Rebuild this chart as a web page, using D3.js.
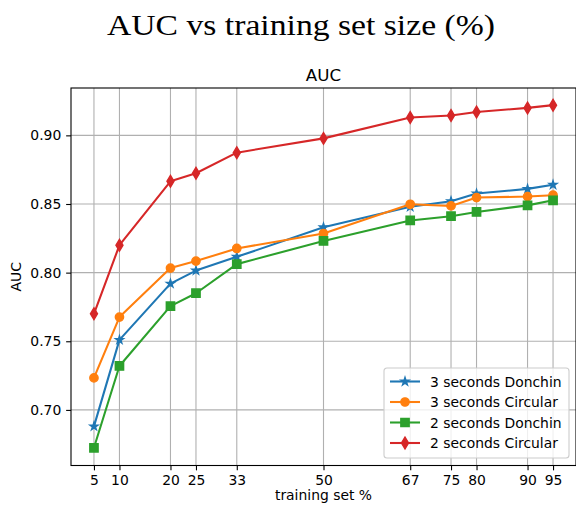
<!DOCTYPE html>
<html>
<head>
<meta charset="utf-8">
<script src="https://cdn.jsdelivr.net/npm/d3@7"></script>
<style>
  body { margin: 0; background: #fff; }
  svg { display: block; font-family: "DejaVu Sans", sans-serif; }
</style>
</head>
<body>
<svg id="chart" width="576" height="508"></svg>
<script>
// training set sizes (%)
const sizes = [5, 10, 20, 25, 33, 50, 67, 75, 80, 90, 95];
const yTicks = [0.70, 0.75, 0.80, 0.85, 0.90];

const donchin3 = [0.688, 0.751, 0.792, 0.8015, 0.8115, 0.833, 0.848, 0.852, 0.8576, 0.861, 0.864];
const circular3 = [0.7233, 0.7676, 0.8033, 0.8084, 0.8176, 0.8285, 0.8498, 0.8486, 0.8547, 0.8554, 0.8564];
const donchin2 = [0.6724, 0.732, 0.7756, 0.785, 0.8062, 0.8231, 0.838, 0.8411, 0.8442, 0.849, 0.8527];
const circular2 = [0.770, 0.820, 0.8665, 0.8724, 0.8874, 0.8978, 0.913, 0.9145, 0.917, 0.920, 0.922];

const series = [
  { name: "3 seconds Donchin", values: donchin3, color: "#1f77b4", marker: "star" },
  { name: "3 seconds Circular", values: circular3, color: "#ff7f0e", marker: "circle" },
  { name: "2 seconds Donchin", values: donchin2, color: "#2ca02c", marker: "square" },
  { name: "2 seconds Circular", values: circular2, color: "#d62728", marker: "diamond" }
];

const svg = d3.select("#chart");
const pLeft = 71, pRight = 576, pTop = 88, pBottom = 465.5;

const x = d3.scaleLinear().domain([0.5, 99.5]).range([pLeft, pRight]);
const y = d3.scaleLinear().domain([0.6595, 0.9345]).range([pBottom, pTop]);

// marker shapes, size ~ matplotlib ms=6 at 100dpi
const ms = 8.33;
function markerPath(type) {
  if (type === "circle") return d3.symbol(d3.symbolCircle, Math.PI * (ms / 2) ** 2)();
  if (type === "square") return d3.symbol(d3.symbolSquare, ms * ms)();
  if (type === "star") {
    const pts = [];
    for (let i = 0; i < 10; i++) {
      const r = i % 2 === 0 ? ms / 2 : ms / 2 * 0.381966;
      const a = -Math.PI / 2 + i * Math.PI / 5;
      pts.push([r * Math.cos(a), r * Math.sin(a)]);
    }
    return "M" + pts.map(p => p.join(",")).join("L") + "Z";
  }
  // thin diamond
  const h = ms * Math.SQRT2 / 2, w = h * 0.6;
  return `M0,${-h}L${w},0L0,${h}L${-w},0Z`;
}

// grid
const grid = svg.append("g");
grid.selectAll(".gx").data(sizes).join("line")
  .attr("x1", d => x(d)).attr("x2", d => x(d))
  .attr("y1", pTop).attr("y2", pBottom)
  .attr("stroke", "#b0b0b0").attr("stroke-width", 1.1);
grid.selectAll(".gy").data(yTicks).join("line")
  .attr("x1", pLeft).attr("x2", pRight)
  .attr("y1", d => y(d)).attr("y2", d => y(d))
  .attr("stroke", "#b0b0b0").attr("stroke-width", 1.1);

// lines + markers
const line = d3.line().x((d, i) => x(sizes[i])).y(d => y(d));
series.forEach(s => {
  svg.append("path").datum(s.values)
    .attr("d", line).attr("fill", "none")
    .attr("stroke", s.color).attr("stroke-width", 2.08)
    .attr("stroke-linejoin", "round");
  svg.append("g").selectAll("path").data(s.values).join("path")
    .attr("d", markerPath(s.marker))
    .attr("transform", (d, i) => `translate(${x(sizes[i])},${y(d)})`)
    .attr("fill", s.color).attr("stroke", s.color).attr("stroke-width", 1.39)
    .attr("stroke-linejoin", "miter");
});

// axes
const xAxis = d3.axisBottom(x).tickValues(sizes).tickFormat(d3.format("d"))
  .tickSizeInner(4.86).tickSizeOuter(0).tickPadding(4.86);
const yAxis = d3.axisLeft(y).tickValues(yTicks).tickFormat(d3.format(".2f"))
  .tickSizeInner(4.86).tickSizeOuter(0).tickPadding(4.86);

const gx = svg.append("g").attr("transform", `translate(0,${pBottom})`).call(xAxis);
const gy = svg.append("g").attr("transform", `translate(${pLeft},0)`).call(yAxis);
[gx, gy].forEach(g => {
  g.select(".domain").remove();
  g.selectAll("line").attr("stroke", "#000").attr("stroke-width", 1.1);
  g.selectAll("text").attr("fill", "#000").style("font-size", "13.9px")
    .style("font-family", "DejaVu Sans");
});

// spines
svg.append("rect")
  .attr("x", pLeft).attr("y", pTop)
  .attr("width", pRight - pLeft).attr("height", pBottom - pTop)
  .attr("fill", "none").attr("stroke", "#000").attr("stroke-width", 1.1);

// labels
svg.append("text").attr("x", (pLeft + pRight) / 2).attr("y", 500)
  .attr("text-anchor", "middle").style("font-size", "13.9px")
  .text("training set %");
svg.append("text")
  .attr("transform", `translate(21,${(pTop + pBottom) / 2}) rotate(-90)`)
  .attr("text-anchor", "middle").style("font-size", "13.9px")
  .text("AUC");
svg.append("text").attr("x", (pLeft + pRight) / 2).attr("y", 81)
  .attr("text-anchor", "middle").style("font-size", "16.7px")
  .text("AUC");
svg.append("text").attr("x", 107).attr("y", 34.5)
  .attr("textLength", 388).attr("lengthAdjust", "spacingAndGlyphs")
  .style("font-family", "'Liberation Serif', serif").style("font-size", "29px")
  .text("AUC vs training set size (%)");

// legend
const lg = svg.append("g").attr("transform", "translate(384,368)");
lg.append("rect").attr("width", 185).attr("height", 90).attr("rx", 3)
  .attr("fill", "#fff").attr("fill-opacity", 0.8)
  .attr("stroke", "#cccccc").attr("stroke-width", 1.1);
series.forEach((s, i) => {
  const row = lg.append("g").attr("transform", `translate(0,${13.5 + i * 20.5})`);
  row.append("line").attr("x1", 6).attr("x2", 36)
    .attr("stroke", s.color).attr("stroke-width", 2.08);
  row.append("path").attr("d", markerPath(s.marker))
    .attr("transform", "translate(21,0)")
    .attr("fill", s.color).attr("stroke", s.color).attr("stroke-width", 1.39);
  row.append("text").attr("x", 46).attr("y", 5)
    .style("font-size", "13.9px").text(s.name);
});
</script>
</body>
</html>
